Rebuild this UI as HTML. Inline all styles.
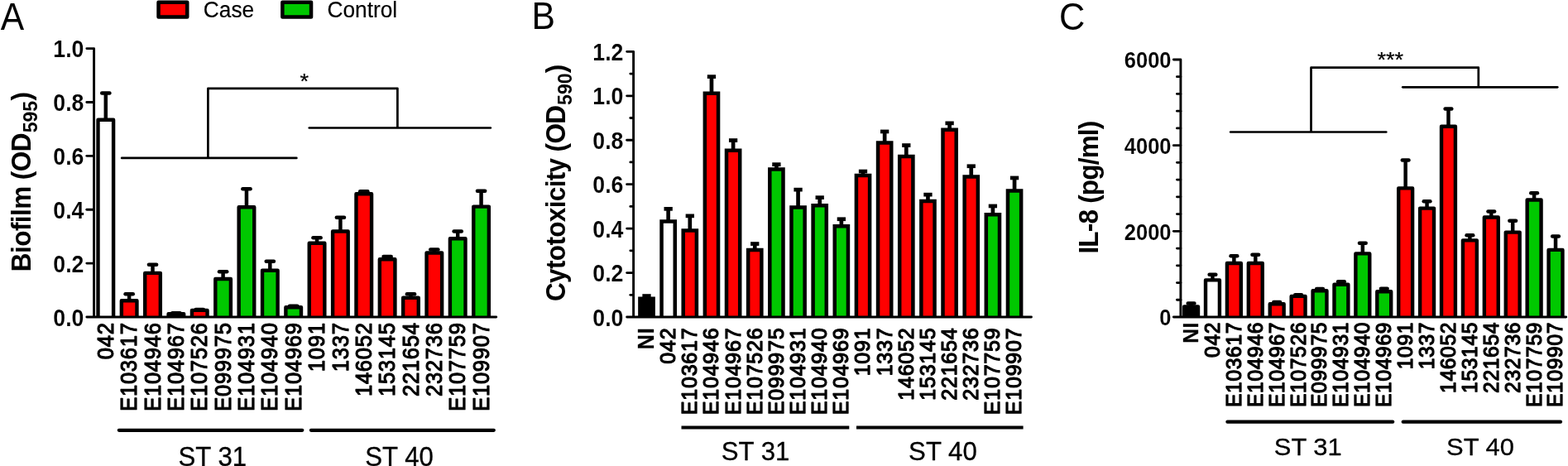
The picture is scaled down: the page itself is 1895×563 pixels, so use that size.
<!DOCTYPE html>
<html lang="en">
<head>
<meta charset="utf-8">
<title>Figure: Biofilm, Cytotoxicity and IL-8</title>
<style>
html,body{margin:0;padding:0;background:#fff;}
body{width:1895px;height:563px;overflow:hidden;font-family:"Liberation Sans", sans-serif;}
svg{display:block;}
text{font-family:"Liberation Sans", sans-serif;}
</style>
</head>
<body>
<svg width="1895" height="563" viewBox="0 0 1895 563" font-family='"Liberation Sans", sans-serif' fill="#000">
<rect width="1895" height="563" fill="#fff"/>
<rect x="191.55" y="2.75" width="34.7" height="17.7" fill="#ff0000" stroke="#000" stroke-width="4.5" stroke-linejoin="round"/>
<text transform="translate(245.8 20.75) scale(1 1.085)" font-size="26.3" font-weight="normal" text-anchor="start" stroke="#000" stroke-width="0.15" stroke-linejoin="round">Case</text>
<rect x="341.35" y="2.75" width="34.7" height="17.7" fill="#00c800" stroke="#000" stroke-width="4.5" stroke-linejoin="round"/>
<text transform="translate(395.4 20.75) scale(1 1.085)" font-size="26.3" font-weight="normal" text-anchor="start" stroke="#000" stroke-width="0.15" stroke-linejoin="round">Control</text>
<line x1="127.8" y1="112.45" x2="127.8" y2="144.8" stroke="#000" stroke-width="4.5" stroke-linecap="butt"/>
<line x1="123.2" y1="112.45" x2="132.4" y2="112.45" stroke="#000" stroke-width="4.5" stroke-linecap="round"/>
<path d="M118.5 383V144.8H137.1V383" fill="#fff" stroke="#000" stroke-width="4.4" stroke-linejoin="round"/>
<line x1="156.16" y1="355.25" x2="156.16" y2="363.2" stroke="#000" stroke-width="4.5" stroke-linecap="butt"/>
<line x1="151.56" y1="355.25" x2="160.76" y2="355.25" stroke="#000" stroke-width="4.5" stroke-linecap="round"/>
<path d="M146.86 383V363.2H165.46V383" fill="#ff0000" stroke="#000" stroke-width="4.4" stroke-linejoin="round"/>
<line x1="184.52" y1="319.75" x2="184.52" y2="329.9" stroke="#000" stroke-width="4.5" stroke-linecap="butt"/>
<line x1="179.92" y1="319.75" x2="189.12" y2="319.75" stroke="#000" stroke-width="4.5" stroke-linecap="round"/>
<path d="M175.22 383V329.9H193.82V383" fill="#ff0000" stroke="#000" stroke-width="4.4" stroke-linejoin="round"/>
<line x1="212.88" y1="378.35" x2="212.88" y2="379.2" stroke="#000" stroke-width="4.5" stroke-linecap="butt"/>
<line x1="208.28" y1="378.35" x2="217.48" y2="378.35" stroke="#000" stroke-width="4.5" stroke-linecap="round"/>
<path d="M203.58 383V379.2H222.18V383" fill="#000" stroke="#000" stroke-width="4.4" stroke-linejoin="round"/>
<line x1="241.24" y1="373.95" x2="241.24" y2="374.9" stroke="#000" stroke-width="4.5" stroke-linecap="butt"/>
<line x1="236.64" y1="373.95" x2="245.84" y2="373.95" stroke="#000" stroke-width="4.5" stroke-linecap="round"/>
<path d="M231.94 383V374.9H250.54V383" fill="#ff0000" stroke="#000" stroke-width="4.4" stroke-linejoin="round"/>
<line x1="269.6" y1="328.25" x2="269.6" y2="337" stroke="#000" stroke-width="4.5" stroke-linecap="butt"/>
<line x1="265" y1="328.25" x2="274.2" y2="328.25" stroke="#000" stroke-width="4.5" stroke-linecap="round"/>
<path d="M260.3 383V337H278.9V383" fill="#00c800" stroke="#000" stroke-width="4.4" stroke-linejoin="round"/>
<line x1="297.96" y1="228.35" x2="297.96" y2="250.2" stroke="#000" stroke-width="4.5" stroke-linecap="butt"/>
<line x1="293.36" y1="228.35" x2="302.56" y2="228.35" stroke="#000" stroke-width="4.5" stroke-linecap="round"/>
<path d="M288.66 383V250.2H307.26V383" fill="#00c800" stroke="#000" stroke-width="4.4" stroke-linejoin="round"/>
<line x1="326.32" y1="315.65" x2="326.32" y2="326.8" stroke="#000" stroke-width="4.5" stroke-linecap="butt"/>
<line x1="321.72" y1="315.65" x2="330.92" y2="315.65" stroke="#000" stroke-width="4.5" stroke-linecap="round"/>
<path d="M317.02 383V326.8H335.62V383" fill="#00c800" stroke="#000" stroke-width="4.4" stroke-linejoin="round"/>
<line x1="354.68" y1="369.75" x2="354.68" y2="371.2" stroke="#000" stroke-width="4.5" stroke-linecap="butt"/>
<line x1="350.08" y1="369.75" x2="359.28" y2="369.75" stroke="#000" stroke-width="4.5" stroke-linecap="round"/>
<path d="M345.38 383V371.2H363.98V383" fill="#00c800" stroke="#000" stroke-width="4.4" stroke-linejoin="round"/>
<line x1="383.04" y1="287.15" x2="383.04" y2="293.8" stroke="#000" stroke-width="4.5" stroke-linecap="butt"/>
<line x1="378.44" y1="287.15" x2="387.64" y2="287.15" stroke="#000" stroke-width="4.5" stroke-linecap="round"/>
<path d="M373.74 383V293.8H392.34V383" fill="#ff0000" stroke="#000" stroke-width="4.4" stroke-linejoin="round"/>
<line x1="411.4" y1="262.65" x2="411.4" y2="279.5" stroke="#000" stroke-width="4.5" stroke-linecap="butt"/>
<line x1="406.8" y1="262.65" x2="416" y2="262.65" stroke="#000" stroke-width="4.5" stroke-linecap="round"/>
<path d="M402.1 383V279.5H420.7V383" fill="#ff0000" stroke="#000" stroke-width="4.4" stroke-linejoin="round"/>
<line x1="439.76" y1="231.25" x2="439.76" y2="234.2" stroke="#000" stroke-width="4.5" stroke-linecap="butt"/>
<line x1="435.16" y1="231.25" x2="444.36" y2="231.25" stroke="#000" stroke-width="4.5" stroke-linecap="round"/>
<path d="M430.46 383V234.2H449.06V383" fill="#ff0000" stroke="#000" stroke-width="4.4" stroke-linejoin="round"/>
<line x1="468.12" y1="310.05" x2="468.12" y2="313.2" stroke="#000" stroke-width="4.5" stroke-linecap="butt"/>
<line x1="463.52" y1="310.05" x2="472.72" y2="310.05" stroke="#000" stroke-width="4.5" stroke-linecap="round"/>
<path d="M458.82 383V313.2H477.42V383" fill="#ff0000" stroke="#000" stroke-width="4.4" stroke-linejoin="round"/>
<line x1="496.48" y1="355.25" x2="496.48" y2="359.7" stroke="#000" stroke-width="4.5" stroke-linecap="butt"/>
<line x1="491.88" y1="355.25" x2="501.08" y2="355.25" stroke="#000" stroke-width="4.5" stroke-linecap="round"/>
<path d="M487.18 383V359.7H505.78V383" fill="#ff0000" stroke="#000" stroke-width="4.4" stroke-linejoin="round"/>
<line x1="524.84" y1="301.45" x2="524.84" y2="305.5" stroke="#000" stroke-width="4.5" stroke-linecap="butt"/>
<line x1="520.24" y1="301.45" x2="529.44" y2="301.45" stroke="#000" stroke-width="4.5" stroke-linecap="round"/>
<path d="M515.54 383V305.5H534.14V383" fill="#ff0000" stroke="#000" stroke-width="4.4" stroke-linejoin="round"/>
<line x1="553.2" y1="279.55" x2="553.2" y2="288.3" stroke="#000" stroke-width="4.5" stroke-linecap="butt"/>
<line x1="548.6" y1="279.55" x2="557.8" y2="279.55" stroke="#000" stroke-width="4.5" stroke-linecap="round"/>
<path d="M543.9 383V288.3H562.5V383" fill="#00c800" stroke="#000" stroke-width="4.4" stroke-linejoin="round"/>
<line x1="581.56" y1="230.65" x2="581.56" y2="249.6" stroke="#000" stroke-width="4.5" stroke-linecap="butt"/>
<line x1="576.96" y1="230.65" x2="586.16" y2="230.65" stroke="#000" stroke-width="4.5" stroke-linecap="round"/>
<path d="M572.26 383V249.6H590.86V383" fill="#00c800" stroke="#000" stroke-width="4.4" stroke-linejoin="round"/>
<path d="M104.85 58.6H113.6V383M104.85 383H599.75" fill="none" stroke="#000" stroke-width="2.9" stroke-linecap="round" stroke-linejoin="round"/>
<text transform="translate(101.4 393.5) scale(1 1.075)" font-size="26.7" font-weight="bold" text-anchor="end" stroke="#fff" stroke-width="0.1">0.0</text>
<line x1="104.8" y1="318.12" x2="113.6" y2="318.12" stroke="#000" stroke-width="2.8" stroke-linecap="round"/>
<text transform="translate(101.4 328.62) scale(1 1.075)" font-size="26.7" font-weight="bold" text-anchor="end" stroke="#fff" stroke-width="0.1">0.2</text>
<line x1="104.8" y1="253.24" x2="113.6" y2="253.24" stroke="#000" stroke-width="2.8" stroke-linecap="round"/>
<text transform="translate(101.4 263.74) scale(1 1.075)" font-size="26.7" font-weight="bold" text-anchor="end" stroke="#fff" stroke-width="0.1">0.4</text>
<line x1="104.8" y1="188.36" x2="113.6" y2="188.36" stroke="#000" stroke-width="2.8" stroke-linecap="round"/>
<text transform="translate(101.4 198.86) scale(1 1.075)" font-size="26.7" font-weight="bold" text-anchor="end" stroke="#fff" stroke-width="0.1">0.6</text>
<line x1="104.8" y1="123.48" x2="113.6" y2="123.48" stroke="#000" stroke-width="2.8" stroke-linecap="round"/>
<text transform="translate(101.4 133.98) scale(1 1.075)" font-size="26.7" font-weight="bold" text-anchor="end" stroke="#fff" stroke-width="0.1">0.8</text>
<text transform="translate(101.4 69.1) scale(1 1.075)" font-size="26.7" font-weight="bold" text-anchor="end" stroke="#fff" stroke-width="0.1">1.0</text>
<text transform="translate(136.9 389.32) rotate(-90) scale(1 1.05)" font-size="25.5" font-weight="normal" text-anchor="end" letter-spacing="0.78" stroke="#000" stroke-width="1.1" stroke-linejoin="round">042</text>
<text transform="translate(165.26 389.32) rotate(-90) scale(1 1.05)" font-size="25.5" font-weight="normal" text-anchor="end" letter-spacing="0.78" stroke="#000" stroke-width="1.1" stroke-linejoin="round">E103617</text>
<text transform="translate(193.62 389.32) rotate(-90) scale(1 1.05)" font-size="25.5" font-weight="normal" text-anchor="end" letter-spacing="0.78" stroke="#000" stroke-width="1.1" stroke-linejoin="round">E104946</text>
<text transform="translate(221.98 389.32) rotate(-90) scale(1 1.05)" font-size="25.5" font-weight="normal" text-anchor="end" letter-spacing="0.78" stroke="#000" stroke-width="1.1" stroke-linejoin="round">E104967</text>
<text transform="translate(250.34 389.32) rotate(-90) scale(1 1.05)" font-size="25.5" font-weight="normal" text-anchor="end" letter-spacing="0.78" stroke="#000" stroke-width="1.1" stroke-linejoin="round">E107526</text>
<text transform="translate(278.7 389.32) rotate(-90) scale(1 1.05)" font-size="25.5" font-weight="normal" text-anchor="end" letter-spacing="0.78" stroke="#000" stroke-width="1.1" stroke-linejoin="round">E099975</text>
<text transform="translate(307.06 389.32) rotate(-90) scale(1 1.05)" font-size="25.5" font-weight="normal" text-anchor="end" letter-spacing="0.78" stroke="#000" stroke-width="1.1" stroke-linejoin="round">E104931</text>
<text transform="translate(335.42 389.32) rotate(-90) scale(1 1.05)" font-size="25.5" font-weight="normal" text-anchor="end" letter-spacing="0.78" stroke="#000" stroke-width="1.1" stroke-linejoin="round">E104940</text>
<text transform="translate(363.78 389.32) rotate(-90) scale(1 1.05)" font-size="25.5" font-weight="normal" text-anchor="end" letter-spacing="0.78" stroke="#000" stroke-width="1.1" stroke-linejoin="round">E104969</text>
<text transform="translate(392.14 389.32) rotate(-90) scale(1 1.05)" font-size="25.5" font-weight="normal" text-anchor="end" letter-spacing="0.78" stroke="#000" stroke-width="1.1" stroke-linejoin="round">1091</text>
<text transform="translate(420.5 389.32) rotate(-90) scale(1 1.05)" font-size="25.5" font-weight="normal" text-anchor="end" letter-spacing="0.78" stroke="#000" stroke-width="1.1" stroke-linejoin="round">1337</text>
<text transform="translate(448.86 389.32) rotate(-90) scale(1 1.05)" font-size="25.5" font-weight="normal" text-anchor="end" letter-spacing="0.78" stroke="#000" stroke-width="1.1" stroke-linejoin="round">146052</text>
<text transform="translate(477.22 389.32) rotate(-90) scale(1 1.05)" font-size="25.5" font-weight="normal" text-anchor="end" letter-spacing="0.78" stroke="#000" stroke-width="1.1" stroke-linejoin="round">153145</text>
<text transform="translate(505.58 389.32) rotate(-90) scale(1 1.05)" font-size="25.5" font-weight="normal" text-anchor="end" letter-spacing="0.78" stroke="#000" stroke-width="1.1" stroke-linejoin="round">221654</text>
<text transform="translate(533.94 389.32) rotate(-90) scale(1 1.05)" font-size="25.5" font-weight="normal" text-anchor="end" letter-spacing="0.78" stroke="#000" stroke-width="1.1" stroke-linejoin="round">232736</text>
<text transform="translate(562.3 389.32) rotate(-90) scale(1 1.05)" font-size="25.5" font-weight="normal" text-anchor="end" letter-spacing="0.78" stroke="#000" stroke-width="1.1" stroke-linejoin="round">E107759</text>
<text transform="translate(590.66 389.32) rotate(-90) scale(1 1.05)" font-size="25.5" font-weight="normal" text-anchor="end" letter-spacing="0.78" stroke="#000" stroke-width="1.1" stroke-linejoin="round">E109907</text>
<line x1="143.8" y1="519.8" x2="365.3" y2="519.8" stroke="#000" stroke-width="4.2" stroke-linecap="round"/>
<line x1="375.9" y1="519.8" x2="596.8" y2="519.8" stroke="#000" stroke-width="4.2" stroke-linecap="round"/>
<text transform="translate(215.5 562.9) scale(1 1.045)" font-size="31.2" font-weight="normal" text-anchor="start" stroke="#000" stroke-width="0.3" stroke-linejoin="round">ST 31</text>
<text transform="translate(441.2 562.9) scale(1 1.045)" font-size="31.2" font-weight="normal" text-anchor="start" stroke="#000" stroke-width="0.3" stroke-linejoin="round">ST 40</text>
<text transform="translate(37 328.2) rotate(-90) scale(1 1.03)" font-size="31.5" font-weight="bold" text-anchor="start" letter-spacing="-0.55">Biofilm (OD<tspan font-size="23" dx="0.8" dy="7.7" letter-spacing="0">595</tspan><tspan dx="0.3" dy="-7.7" letter-spacing="-0.7">)</tspan></text>
<text transform="translate(0.7 35.6) scale(1 1.065)" font-size="42.6" font-weight="normal" text-anchor="start">A</text>
<line x1="781.5" y1="357.55" x2="781.5" y2="360.65" stroke="#000" stroke-width="4.7" stroke-linecap="butt"/>
<line x1="776.35" y1="357.55" x2="786.65" y2="357.55" stroke="#000" stroke-width="4.7" stroke-linecap="butt"/>
<path d="M773.4 383V360.65H789.6V383" fill="#000" stroke="#000" stroke-width="4.5" stroke-linejoin="miter"/>
<line x1="807.65" y1="252.35" x2="807.65" y2="267.55" stroke="#000" stroke-width="4.7" stroke-linecap="butt"/>
<line x1="802.5" y1="252.35" x2="812.8" y2="252.35" stroke="#000" stroke-width="4.7" stroke-linecap="butt"/>
<path d="M799.55 383V267.55H815.75V383" fill="#fff" stroke="#000" stroke-width="4.5" stroke-linejoin="miter"/>
<line x1="833.8" y1="260.85" x2="833.8" y2="278.55" stroke="#000" stroke-width="4.7" stroke-linecap="butt"/>
<line x1="828.65" y1="260.85" x2="838.95" y2="260.85" stroke="#000" stroke-width="4.7" stroke-linecap="butt"/>
<path d="M825.7 383V278.55H841.9V383" fill="#ff0000" stroke="#000" stroke-width="4.5" stroke-linejoin="miter"/>
<line x1="859.95" y1="92.65" x2="859.95" y2="112.75" stroke="#000" stroke-width="4.7" stroke-linecap="butt"/>
<line x1="854.8" y1="92.65" x2="865.1" y2="92.65" stroke="#000" stroke-width="4.7" stroke-linecap="butt"/>
<path d="M851.85 383V112.75H868.05V383" fill="#ff0000" stroke="#000" stroke-width="4.5" stroke-linejoin="miter"/>
<line x1="886.1" y1="169.55" x2="886.1" y2="181.65" stroke="#000" stroke-width="4.7" stroke-linecap="butt"/>
<line x1="880.95" y1="169.55" x2="891.25" y2="169.55" stroke="#000" stroke-width="4.7" stroke-linecap="butt"/>
<path d="M878 383V181.65H894.2V383" fill="#ff0000" stroke="#000" stroke-width="4.5" stroke-linejoin="miter"/>
<line x1="912.25" y1="294.55" x2="912.25" y2="301.95" stroke="#000" stroke-width="4.7" stroke-linecap="butt"/>
<line x1="907.1" y1="294.55" x2="917.4" y2="294.55" stroke="#000" stroke-width="4.7" stroke-linecap="butt"/>
<path d="M904.15 383V301.95H920.35V383" fill="#ff0000" stroke="#000" stroke-width="4.5" stroke-linejoin="miter"/>
<line x1="938.4" y1="198.65" x2="938.4" y2="204.45" stroke="#000" stroke-width="4.7" stroke-linecap="butt"/>
<line x1="933.25" y1="198.65" x2="943.55" y2="198.65" stroke="#000" stroke-width="4.7" stroke-linecap="butt"/>
<path d="M930.3 383V204.45H946.5V383" fill="#00c800" stroke="#000" stroke-width="4.5" stroke-linejoin="miter"/>
<line x1="964.55" y1="229.15" x2="964.55" y2="250.45" stroke="#000" stroke-width="4.7" stroke-linecap="butt"/>
<line x1="959.4" y1="229.15" x2="969.7" y2="229.15" stroke="#000" stroke-width="4.7" stroke-linecap="butt"/>
<path d="M956.45 383V250.45H972.65V383" fill="#00c800" stroke="#000" stroke-width="4.5" stroke-linejoin="miter"/>
<line x1="990.7" y1="238.65" x2="990.7" y2="248.35" stroke="#000" stroke-width="4.7" stroke-linecap="butt"/>
<line x1="985.55" y1="238.65" x2="995.85" y2="238.65" stroke="#000" stroke-width="4.7" stroke-linecap="butt"/>
<path d="M982.6 383V248.35H998.8V383" fill="#00c800" stroke="#000" stroke-width="4.5" stroke-linejoin="miter"/>
<line x1="1016.85" y1="264.75" x2="1016.85" y2="273.35" stroke="#000" stroke-width="4.7" stroke-linecap="butt"/>
<line x1="1011.7" y1="264.75" x2="1022" y2="264.75" stroke="#000" stroke-width="4.7" stroke-linecap="butt"/>
<path d="M1008.75 383V273.35H1024.95V383" fill="#00c800" stroke="#000" stroke-width="4.5" stroke-linejoin="miter"/>
<line x1="1043" y1="207.05" x2="1043" y2="212.05" stroke="#000" stroke-width="4.7" stroke-linecap="butt"/>
<line x1="1037.85" y1="207.05" x2="1048.15" y2="207.05" stroke="#000" stroke-width="4.7" stroke-linecap="butt"/>
<path d="M1034.9 383V212.05H1051.1V383" fill="#ff0000" stroke="#000" stroke-width="4.5" stroke-linejoin="miter"/>
<line x1="1069.15" y1="158.95" x2="1069.15" y2="172.55" stroke="#000" stroke-width="4.7" stroke-linecap="butt"/>
<line x1="1064" y1="158.95" x2="1074.3" y2="158.95" stroke="#000" stroke-width="4.7" stroke-linecap="butt"/>
<path d="M1061.05 383V172.55H1077.25V383" fill="#ff0000" stroke="#000" stroke-width="4.5" stroke-linejoin="miter"/>
<line x1="1095.3" y1="175.55" x2="1095.3" y2="189.05" stroke="#000" stroke-width="4.7" stroke-linecap="butt"/>
<line x1="1090.15" y1="175.55" x2="1100.45" y2="175.55" stroke="#000" stroke-width="4.7" stroke-linecap="butt"/>
<path d="M1087.2 383V189.05H1103.4V383" fill="#ff0000" stroke="#000" stroke-width="4.5" stroke-linejoin="miter"/>
<line x1="1121.45" y1="235.15" x2="1121.45" y2="243.05" stroke="#000" stroke-width="4.7" stroke-linecap="butt"/>
<line x1="1116.3" y1="235.15" x2="1126.6" y2="235.15" stroke="#000" stroke-width="4.7" stroke-linecap="butt"/>
<path d="M1113.35 383V243.05H1129.55V383" fill="#ff0000" stroke="#000" stroke-width="4.5" stroke-linejoin="miter"/>
<line x1="1147.6" y1="148.85" x2="1147.6" y2="156.75" stroke="#000" stroke-width="4.7" stroke-linecap="butt"/>
<line x1="1142.45" y1="148.85" x2="1152.75" y2="148.85" stroke="#000" stroke-width="4.7" stroke-linecap="butt"/>
<path d="M1139.5 383V156.75H1155.7V383" fill="#ff0000" stroke="#000" stroke-width="4.5" stroke-linejoin="miter"/>
<line x1="1173.75" y1="200.75" x2="1173.75" y2="213.45" stroke="#000" stroke-width="4.7" stroke-linecap="butt"/>
<line x1="1168.6" y1="200.75" x2="1178.9" y2="200.75" stroke="#000" stroke-width="4.7" stroke-linecap="butt"/>
<path d="M1165.65 383V213.45H1181.85V383" fill="#ff0000" stroke="#000" stroke-width="4.5" stroke-linejoin="miter"/>
<line x1="1199.9" y1="248.95" x2="1199.9" y2="259.35" stroke="#000" stroke-width="4.7" stroke-linecap="butt"/>
<line x1="1194.75" y1="248.95" x2="1205.05" y2="248.95" stroke="#000" stroke-width="4.7" stroke-linecap="butt"/>
<path d="M1191.8 383V259.35H1208V383" fill="#00c800" stroke="#000" stroke-width="4.5" stroke-linejoin="miter"/>
<line x1="1226.05" y1="214.95" x2="1226.05" y2="230.45" stroke="#000" stroke-width="4.7" stroke-linecap="butt"/>
<line x1="1220.9" y1="214.95" x2="1231.2" y2="214.95" stroke="#000" stroke-width="4.7" stroke-linecap="butt"/>
<path d="M1217.95 383V230.45H1234.15V383" fill="#00c800" stroke="#000" stroke-width="4.5" stroke-linejoin="miter"/>
<path d="M757.65 62.36H765.6V383M757.65 383H1246.45" fill="none" stroke="#000" stroke-width="2.9" stroke-linecap="round" stroke-linejoin="round"/>
<text transform="translate(753.4 393.5) scale(1 1.075)" font-size="26.7" font-weight="bold" text-anchor="end" stroke="#fff" stroke-width="0.1">0.0</text>
<line x1="757.6" y1="329.56" x2="765.6" y2="329.56" stroke="#000" stroke-width="2.8" stroke-linecap="round"/>
<text transform="translate(753.4 340.06) scale(1 1.075)" font-size="26.7" font-weight="bold" text-anchor="end" stroke="#fff" stroke-width="0.1">0.2</text>
<line x1="757.6" y1="276.12" x2="765.6" y2="276.12" stroke="#000" stroke-width="2.8" stroke-linecap="round"/>
<text transform="translate(753.4 286.62) scale(1 1.075)" font-size="26.7" font-weight="bold" text-anchor="end" stroke="#fff" stroke-width="0.1">0.4</text>
<line x1="757.6" y1="222.68" x2="765.6" y2="222.68" stroke="#000" stroke-width="2.8" stroke-linecap="round"/>
<text transform="translate(753.4 233.18) scale(1 1.075)" font-size="26.7" font-weight="bold" text-anchor="end" stroke="#fff" stroke-width="0.1">0.6</text>
<line x1="757.6" y1="169.24" x2="765.6" y2="169.24" stroke="#000" stroke-width="2.8" stroke-linecap="round"/>
<text transform="translate(753.4 179.74) scale(1 1.075)" font-size="26.7" font-weight="bold" text-anchor="end" stroke="#fff" stroke-width="0.1">0.8</text>
<line x1="757.6" y1="115.8" x2="765.6" y2="115.8" stroke="#000" stroke-width="2.8" stroke-linecap="round"/>
<text transform="translate(753.4 126.3) scale(1 1.075)" font-size="26.7" font-weight="bold" text-anchor="end" stroke="#fff" stroke-width="0.1">1.0</text>
<text transform="translate(753.4 72.86) scale(1 1.075)" font-size="26.7" font-weight="bold" text-anchor="end" stroke="#fff" stroke-width="0.1">1.2</text>
<line x1="761.8" y1="356.28" x2="765.6" y2="356.28" stroke="#000" stroke-width="2.8" stroke-linecap="round"/>
<line x1="761.8" y1="302.84" x2="765.6" y2="302.84" stroke="#000" stroke-width="2.8" stroke-linecap="round"/>
<line x1="761.8" y1="249.4" x2="765.6" y2="249.4" stroke="#000" stroke-width="2.8" stroke-linecap="round"/>
<line x1="761.8" y1="195.96" x2="765.6" y2="195.96" stroke="#000" stroke-width="2.8" stroke-linecap="round"/>
<line x1="761.8" y1="142.52" x2="765.6" y2="142.52" stroke="#000" stroke-width="2.8" stroke-linecap="round"/>
<line x1="761.8" y1="89.08" x2="765.6" y2="89.08" stroke="#000" stroke-width="2.8" stroke-linecap="round"/>
<text transform="translate(789.9 395.62) rotate(-90) scale(1 1.08)" font-size="25" font-weight="bold" text-anchor="end" letter-spacing="0.78" stroke="#000" stroke-width="0.3" stroke-linejoin="round">NI</text>
<text transform="translate(816.05 395.62) rotate(-90) scale(1 1.05)" font-size="25" font-weight="normal" text-anchor="end" letter-spacing="0.78" stroke="#000" stroke-width="1.2" stroke-linejoin="round">042</text>
<text transform="translate(842.2 395.62) rotate(-90) scale(1 1.05)" font-size="25" font-weight="normal" text-anchor="end" letter-spacing="0.78" stroke="#000" stroke-width="1.2" stroke-linejoin="round">E103617</text>
<text transform="translate(868.35 395.62) rotate(-90) scale(1 1.05)" font-size="25" font-weight="normal" text-anchor="end" letter-spacing="0.78" stroke="#000" stroke-width="1.2" stroke-linejoin="round">E104946</text>
<text transform="translate(894.5 395.62) rotate(-90) scale(1 1.05)" font-size="25" font-weight="normal" text-anchor="end" letter-spacing="0.78" stroke="#000" stroke-width="1.2" stroke-linejoin="round">E104967</text>
<text transform="translate(920.65 395.62) rotate(-90) scale(1 1.05)" font-size="25" font-weight="normal" text-anchor="end" letter-spacing="0.78" stroke="#000" stroke-width="1.2" stroke-linejoin="round">E107526</text>
<text transform="translate(946.8 395.62) rotate(-90) scale(1 1.05)" font-size="25" font-weight="normal" text-anchor="end" letter-spacing="0.78" stroke="#000" stroke-width="1.2" stroke-linejoin="round">E099975</text>
<text transform="translate(972.95 395.62) rotate(-90) scale(1 1.05)" font-size="25" font-weight="normal" text-anchor="end" letter-spacing="0.78" stroke="#000" stroke-width="1.2" stroke-linejoin="round">E104931</text>
<text transform="translate(999.1 395.62) rotate(-90) scale(1 1.05)" font-size="25" font-weight="normal" text-anchor="end" letter-spacing="0.78" stroke="#000" stroke-width="1.2" stroke-linejoin="round">E104940</text>
<text transform="translate(1025.25 395.62) rotate(-90) scale(1 1.05)" font-size="25" font-weight="normal" text-anchor="end" letter-spacing="0.78" stroke="#000" stroke-width="1.2" stroke-linejoin="round">E104969</text>
<text transform="translate(1051.4 395.62) rotate(-90) scale(1 1.05)" font-size="25" font-weight="normal" text-anchor="end" letter-spacing="0.78" stroke="#000" stroke-width="1.2" stroke-linejoin="round">1091</text>
<text transform="translate(1077.55 395.62) rotate(-90) scale(1 1.05)" font-size="25" font-weight="normal" text-anchor="end" letter-spacing="0.78" stroke="#000" stroke-width="1.2" stroke-linejoin="round">1337</text>
<text transform="translate(1103.7 395.62) rotate(-90) scale(1 1.05)" font-size="25" font-weight="normal" text-anchor="end" letter-spacing="0.78" stroke="#000" stroke-width="1.2" stroke-linejoin="round">146052</text>
<text transform="translate(1129.85 395.62) rotate(-90) scale(1 1.05)" font-size="25" font-weight="normal" text-anchor="end" letter-spacing="0.78" stroke="#000" stroke-width="1.2" stroke-linejoin="round">153145</text>
<text transform="translate(1156 395.62) rotate(-90) scale(1 1.05)" font-size="25" font-weight="normal" text-anchor="end" letter-spacing="0.78" stroke="#000" stroke-width="1.2" stroke-linejoin="round">221654</text>
<text transform="translate(1182.15 395.62) rotate(-90) scale(1 1.05)" font-size="25" font-weight="normal" text-anchor="end" letter-spacing="0.78" stroke="#000" stroke-width="1.2" stroke-linejoin="round">232736</text>
<text transform="translate(1208.3 395.62) rotate(-90) scale(1 1.05)" font-size="25" font-weight="normal" text-anchor="end" letter-spacing="0.78" stroke="#000" stroke-width="1.2" stroke-linejoin="round">E107759</text>
<text transform="translate(1234.45 395.62) rotate(-90) scale(1 1.05)" font-size="25" font-weight="normal" text-anchor="end" letter-spacing="0.78" stroke="#000" stroke-width="1.2" stroke-linejoin="round">E109907</text>
<line x1="823.5" y1="516.5" x2="1026.3" y2="516.5" stroke="#000" stroke-width="4.2" stroke-linecap="butt"/>
<line x1="1035" y1="516.5" x2="1236.6" y2="516.5" stroke="#000" stroke-width="4.2" stroke-linecap="butt"/>
<text transform="translate(871.8 556.1) scale(1 1.025)" font-size="31.2" font-weight="normal" text-anchor="start" stroke="#000" stroke-width="0.3" stroke-linejoin="round">ST 31</text>
<text transform="translate(1098.1 556.1) scale(1 1.025)" font-size="31.2" font-weight="normal" text-anchor="start" stroke="#000" stroke-width="0.3" stroke-linejoin="round">ST 40</text>
<text transform="translate(683.4 364) rotate(-90) scale(1 1.03)" font-size="31.5" font-weight="bold" text-anchor="start" letter-spacing="-0.65">Cytotoxicity (OD<tspan font-size="23" dx="0.8" dy="7.7" letter-spacing="0">590</tspan><tspan dx="0.3" dy="-7.7" letter-spacing="-0.7">)</tspan></text>
<text transform="translate(642.6 35.2) scale(1 1.065)" font-size="42.6" font-weight="normal" text-anchor="start">B</text>
<line x1="1439.55" y1="366.45" x2="1439.55" y2="370.4" stroke="#000" stroke-width="4.5" stroke-linecap="butt"/>
<line x1="1435.7" y1="366.45" x2="1443.4" y2="366.45" stroke="#000" stroke-width="4.5" stroke-linecap="round"/>
<path d="M1431.1 383V370.4H1448V383" fill="#000" stroke="#000" stroke-width="4.4" stroke-linejoin="round"/>
<line x1="1465.46" y1="331.65" x2="1465.46" y2="338.4" stroke="#000" stroke-width="4.5" stroke-linecap="butt"/>
<line x1="1461.61" y1="331.65" x2="1469.31" y2="331.65" stroke="#000" stroke-width="4.5" stroke-linecap="round"/>
<path d="M1457.01 383V338.4H1473.91V383" fill="#fff" stroke="#000" stroke-width="4.4" stroke-linejoin="round"/>
<line x1="1491.37" y1="309.15" x2="1491.37" y2="318" stroke="#000" stroke-width="4.5" stroke-linecap="butt"/>
<line x1="1487.52" y1="309.15" x2="1495.22" y2="309.15" stroke="#000" stroke-width="4.5" stroke-linecap="round"/>
<path d="M1482.92 383V318H1499.82V383" fill="#ff0000" stroke="#000" stroke-width="4.4" stroke-linejoin="round"/>
<line x1="1517.28" y1="307.85" x2="1517.28" y2="318" stroke="#000" stroke-width="4.5" stroke-linecap="butt"/>
<line x1="1513.43" y1="307.85" x2="1521.13" y2="307.85" stroke="#000" stroke-width="4.5" stroke-linecap="round"/>
<path d="M1508.83 383V318H1525.73V383" fill="#ff0000" stroke="#000" stroke-width="4.4" stroke-linejoin="round"/>
<line x1="1543.19" y1="365.05" x2="1543.19" y2="367.2" stroke="#000" stroke-width="4.5" stroke-linecap="butt"/>
<line x1="1539.34" y1="365.05" x2="1547.04" y2="365.05" stroke="#000" stroke-width="4.5" stroke-linecap="round"/>
<path d="M1534.74 383V367.2H1551.64V383" fill="#ff0000" stroke="#000" stroke-width="4.4" stroke-linejoin="round"/>
<line x1="1569.1" y1="356.15" x2="1569.1" y2="357.9" stroke="#000" stroke-width="4.5" stroke-linecap="butt"/>
<line x1="1565.25" y1="356.15" x2="1572.95" y2="356.15" stroke="#000" stroke-width="4.5" stroke-linecap="round"/>
<path d="M1560.65 383V357.9H1577.55V383" fill="#ff0000" stroke="#000" stroke-width="4.4" stroke-linejoin="round"/>
<line x1="1595.01" y1="349.05" x2="1595.01" y2="351.2" stroke="#000" stroke-width="4.5" stroke-linecap="butt"/>
<line x1="1591.16" y1="349.05" x2="1598.86" y2="349.05" stroke="#000" stroke-width="4.5" stroke-linecap="round"/>
<path d="M1586.56 383V351.2H1603.46V383" fill="#00c800" stroke="#000" stroke-width="4.4" stroke-linejoin="round"/>
<line x1="1620.92" y1="340.25" x2="1620.92" y2="343.7" stroke="#000" stroke-width="4.5" stroke-linecap="butt"/>
<line x1="1617.07" y1="340.25" x2="1624.77" y2="340.25" stroke="#000" stroke-width="4.5" stroke-linecap="round"/>
<path d="M1612.47 383V343.7H1629.37V383" fill="#00c800" stroke="#000" stroke-width="4.4" stroke-linejoin="round"/>
<line x1="1646.83" y1="293.65" x2="1646.83" y2="306.4" stroke="#000" stroke-width="4.5" stroke-linecap="butt"/>
<line x1="1642.98" y1="293.65" x2="1650.68" y2="293.65" stroke="#000" stroke-width="4.5" stroke-linecap="round"/>
<path d="M1638.38 383V306.4H1655.28V383" fill="#00c800" stroke="#000" stroke-width="4.4" stroke-linejoin="round"/>
<line x1="1672.74" y1="348.75" x2="1672.74" y2="352.2" stroke="#000" stroke-width="4.5" stroke-linecap="butt"/>
<line x1="1668.89" y1="348.75" x2="1676.59" y2="348.75" stroke="#000" stroke-width="4.5" stroke-linecap="round"/>
<path d="M1664.29 383V352.2H1681.19V383" fill="#00c800" stroke="#000" stroke-width="4.4" stroke-linejoin="round"/>
<line x1="1698.65" y1="193.55" x2="1698.65" y2="227.4" stroke="#000" stroke-width="4.5" stroke-linecap="butt"/>
<line x1="1694.8" y1="193.55" x2="1702.5" y2="193.55" stroke="#000" stroke-width="4.5" stroke-linecap="round"/>
<path d="M1690.2 383V227.4H1707.1V383" fill="#ff0000" stroke="#000" stroke-width="4.4" stroke-linejoin="round"/>
<line x1="1724.56" y1="243.35" x2="1724.56" y2="251.6" stroke="#000" stroke-width="4.5" stroke-linecap="butt"/>
<line x1="1720.71" y1="243.35" x2="1728.41" y2="243.35" stroke="#000" stroke-width="4.5" stroke-linecap="round"/>
<path d="M1716.11 383V251.6H1733.01V383" fill="#ff0000" stroke="#000" stroke-width="4.4" stroke-linejoin="round"/>
<line x1="1750.47" y1="131.55" x2="1750.47" y2="152.8" stroke="#000" stroke-width="4.5" stroke-linecap="butt"/>
<line x1="1746.62" y1="131.55" x2="1754.32" y2="131.55" stroke="#000" stroke-width="4.5" stroke-linecap="round"/>
<path d="M1742.02 383V152.8H1758.92V383" fill="#ff0000" stroke="#000" stroke-width="4.4" stroke-linejoin="round"/>
<line x1="1776.38" y1="284.15" x2="1776.38" y2="290.4" stroke="#000" stroke-width="4.5" stroke-linecap="butt"/>
<line x1="1772.53" y1="284.15" x2="1780.23" y2="284.15" stroke="#000" stroke-width="4.5" stroke-linecap="round"/>
<path d="M1767.93 383V290.4H1784.83V383" fill="#ff0000" stroke="#000" stroke-width="4.4" stroke-linejoin="round"/>
<line x1="1802.29" y1="255.45" x2="1802.29" y2="262.5" stroke="#000" stroke-width="4.5" stroke-linecap="butt"/>
<line x1="1798.44" y1="255.45" x2="1806.14" y2="255.45" stroke="#000" stroke-width="4.5" stroke-linecap="round"/>
<path d="M1793.84 383V262.5H1810.74V383" fill="#ff0000" stroke="#000" stroke-width="4.4" stroke-linejoin="round"/>
<line x1="1828.2" y1="266.75" x2="1828.2" y2="280.6" stroke="#000" stroke-width="4.5" stroke-linecap="butt"/>
<line x1="1824.35" y1="266.75" x2="1832.05" y2="266.75" stroke="#000" stroke-width="4.5" stroke-linecap="round"/>
<path d="M1819.75 383V280.6H1836.65V383" fill="#ff0000" stroke="#000" stroke-width="4.4" stroke-linejoin="round"/>
<line x1="1854.11" y1="233.25" x2="1854.11" y2="241.5" stroke="#000" stroke-width="4.5" stroke-linecap="butt"/>
<line x1="1850.26" y1="233.25" x2="1857.96" y2="233.25" stroke="#000" stroke-width="4.5" stroke-linecap="round"/>
<path d="M1845.66 383V241.5H1862.56V383" fill="#00c800" stroke="#000" stroke-width="4.4" stroke-linejoin="round"/>
<line x1="1880.02" y1="285.45" x2="1880.02" y2="301.9" stroke="#000" stroke-width="4.5" stroke-linecap="butt"/>
<line x1="1876.17" y1="285.45" x2="1883.87" y2="285.45" stroke="#000" stroke-width="4.5" stroke-linecap="round"/>
<path d="M1871.57 383V301.9H1888.47V383" fill="#00c800" stroke="#000" stroke-width="4.4" stroke-linejoin="round"/>
<path d="M1418.35 71.95H1426.9V383M1418.35 383H1892.65" fill="none" stroke="#000" stroke-width="2.9" stroke-linecap="round" stroke-linejoin="round"/>
<text transform="translate(1415.5 393.2) scale(1 1.075)" font-size="25.5" font-weight="bold" text-anchor="end" stroke="#fff" stroke-width="0.1">0</text>
<line x1="1418.3" y1="279.32" x2="1426.9" y2="279.32" stroke="#000" stroke-width="2.8" stroke-linecap="round"/>
<text transform="translate(1415.5 289.52) scale(1 1.075)" font-size="25.5" font-weight="bold" text-anchor="end" stroke="#fff" stroke-width="0.1">2000</text>
<line x1="1418.3" y1="175.63" x2="1426.9" y2="175.63" stroke="#000" stroke-width="2.8" stroke-linecap="round"/>
<text transform="translate(1415.5 185.83) scale(1 1.075)" font-size="25.5" font-weight="bold" text-anchor="end" stroke="#fff" stroke-width="0.1">4000</text>
<text transform="translate(1415.5 82.15) scale(1 1.075)" font-size="25.5" font-weight="bold" text-anchor="end" stroke="#fff" stroke-width="0.1">6000</text>
<line x1="1422.4" y1="362.26" x2="1426.9" y2="362.26" stroke="#000" stroke-width="2.8" stroke-linecap="round"/>
<line x1="1422.4" y1="341.53" x2="1426.9" y2="341.53" stroke="#000" stroke-width="2.8" stroke-linecap="round"/>
<line x1="1422.4" y1="320.79" x2="1426.9" y2="320.79" stroke="#000" stroke-width="2.8" stroke-linecap="round"/>
<line x1="1422.4" y1="300.05" x2="1426.9" y2="300.05" stroke="#000" stroke-width="2.8" stroke-linecap="round"/>
<line x1="1422.4" y1="258.58" x2="1426.9" y2="258.58" stroke="#000" stroke-width="2.8" stroke-linecap="round"/>
<line x1="1422.4" y1="237.84" x2="1426.9" y2="237.84" stroke="#000" stroke-width="2.8" stroke-linecap="round"/>
<line x1="1422.4" y1="217.11" x2="1426.9" y2="217.11" stroke="#000" stroke-width="2.8" stroke-linecap="round"/>
<line x1="1422.4" y1="196.37" x2="1426.9" y2="196.37" stroke="#000" stroke-width="2.8" stroke-linecap="round"/>
<line x1="1422.4" y1="154.9" x2="1426.9" y2="154.9" stroke="#000" stroke-width="2.8" stroke-linecap="round"/>
<line x1="1422.4" y1="134.16" x2="1426.9" y2="134.16" stroke="#000" stroke-width="2.8" stroke-linecap="round"/>
<line x1="1422.4" y1="113.42" x2="1426.9" y2="113.42" stroke="#000" stroke-width="2.8" stroke-linecap="round"/>
<line x1="1422.4" y1="92.69" x2="1426.9" y2="92.69" stroke="#000" stroke-width="2.8" stroke-linecap="round"/>
<text transform="translate(1447.95 388.88) rotate(-90) scale(1 1.08)" font-size="24.5" font-weight="bold" text-anchor="end" letter-spacing="0.72" stroke="#000" stroke-width="0.3" stroke-linejoin="round">NI</text>
<text transform="translate(1473.86 388.88) rotate(-90) scale(1 1.05)" font-size="24.5" font-weight="normal" text-anchor="end" letter-spacing="0.72" stroke="#000" stroke-width="1.2" stroke-linejoin="round">042</text>
<text transform="translate(1499.77 388.88) rotate(-90) scale(1 1.05)" font-size="24.5" font-weight="normal" text-anchor="end" letter-spacing="0.72" stroke="#000" stroke-width="1.2" stroke-linejoin="round">E103617</text>
<text transform="translate(1525.68 388.88) rotate(-90) scale(1 1.05)" font-size="24.5" font-weight="normal" text-anchor="end" letter-spacing="0.72" stroke="#000" stroke-width="1.2" stroke-linejoin="round">E104946</text>
<text transform="translate(1551.59 388.88) rotate(-90) scale(1 1.05)" font-size="24.5" font-weight="normal" text-anchor="end" letter-spacing="0.72" stroke="#000" stroke-width="1.2" stroke-linejoin="round">E104967</text>
<text transform="translate(1577.5 388.88) rotate(-90) scale(1 1.05)" font-size="24.5" font-weight="normal" text-anchor="end" letter-spacing="0.72" stroke="#000" stroke-width="1.2" stroke-linejoin="round">E107526</text>
<text transform="translate(1603.41 388.88) rotate(-90) scale(1 1.05)" font-size="24.5" font-weight="normal" text-anchor="end" letter-spacing="0.72" stroke="#000" stroke-width="1.2" stroke-linejoin="round">E099975</text>
<text transform="translate(1629.32 388.88) rotate(-90) scale(1 1.05)" font-size="24.5" font-weight="normal" text-anchor="end" letter-spacing="0.72" stroke="#000" stroke-width="1.2" stroke-linejoin="round">E104931</text>
<text transform="translate(1655.23 388.88) rotate(-90) scale(1 1.05)" font-size="24.5" font-weight="normal" text-anchor="end" letter-spacing="0.72" stroke="#000" stroke-width="1.2" stroke-linejoin="round">E104940</text>
<text transform="translate(1681.14 388.88) rotate(-90) scale(1 1.05)" font-size="24.5" font-weight="normal" text-anchor="end" letter-spacing="0.72" stroke="#000" stroke-width="1.2" stroke-linejoin="round">E104969</text>
<text transform="translate(1707.05 388.88) rotate(-90) scale(1 1.05)" font-size="24.5" font-weight="normal" text-anchor="end" letter-spacing="0.72" stroke="#000" stroke-width="1.2" stroke-linejoin="round">1091</text>
<text transform="translate(1732.96 388.88) rotate(-90) scale(1 1.05)" font-size="24.5" font-weight="normal" text-anchor="end" letter-spacing="0.72" stroke="#000" stroke-width="1.2" stroke-linejoin="round">1337</text>
<text transform="translate(1758.87 388.88) rotate(-90) scale(1 1.05)" font-size="24.5" font-weight="normal" text-anchor="end" letter-spacing="0.72" stroke="#000" stroke-width="1.2" stroke-linejoin="round">146052</text>
<text transform="translate(1784.78 388.88) rotate(-90) scale(1 1.05)" font-size="24.5" font-weight="normal" text-anchor="end" letter-spacing="0.72" stroke="#000" stroke-width="1.2" stroke-linejoin="round">153145</text>
<text transform="translate(1810.69 388.88) rotate(-90) scale(1 1.05)" font-size="24.5" font-weight="normal" text-anchor="end" letter-spacing="0.72" stroke="#000" stroke-width="1.2" stroke-linejoin="round">221654</text>
<text transform="translate(1836.6 388.88) rotate(-90) scale(1 1.05)" font-size="24.5" font-weight="normal" text-anchor="end" letter-spacing="0.72" stroke="#000" stroke-width="1.2" stroke-linejoin="round">232736</text>
<text transform="translate(1862.51 388.88) rotate(-90) scale(1 1.05)" font-size="24.5" font-weight="normal" text-anchor="end" letter-spacing="0.72" stroke="#000" stroke-width="1.2" stroke-linejoin="round">E107759</text>
<text transform="translate(1888.42 388.88) rotate(-90) scale(1 1.05)" font-size="24.5" font-weight="normal" text-anchor="end" letter-spacing="0.72" stroke="#000" stroke-width="1.2" stroke-linejoin="round">E109907</text>
<line x1="1483.4" y1="509.7" x2="1683.2" y2="509.7" stroke="#000" stroke-width="4.2" stroke-linecap="round"/>
<line x1="1695.7" y1="509.7" x2="1886" y2="509.7" stroke="#000" stroke-width="4.2" stroke-linecap="round"/>
<text transform="translate(1539.8 550.4) scale(1 0.985)" font-size="30.9" font-weight="normal" text-anchor="start" stroke="#000" stroke-width="0.3" stroke-linejoin="round">ST 31</text>
<text transform="translate(1748.1 550.4) scale(1 0.985)" font-size="30.9" font-weight="normal" text-anchor="start" stroke="#000" stroke-width="0.3" stroke-linejoin="round">ST 40</text>
<text transform="translate(1326.6 306.6) rotate(-90) scale(1 1.03)" font-size="31.5" font-weight="bold" text-anchor="start" letter-spacing="-0.8">IL-8 (pg/ml)</text>
<text transform="translate(1279.9 35.7) scale(1 1.065)" font-size="43.4" font-weight="normal" text-anchor="start">C</text>
<path d="M251.4 190.9 V106.8 H480.4 V154.5" fill="none" stroke="#000" stroke-width="2.7" stroke-linejoin="round"/>
<line x1="147.15" y1="190.9" x2="358.35" y2="190.9" stroke="#000" stroke-width="2.7" stroke-linecap="round"/>
<line x1="373.75" y1="154.5" x2="592.85" y2="154.5" stroke="#000" stroke-width="2.7" stroke-linecap="round"/>
<text transform="translate(367.9 106.9) scale(1 0.94)" font-size="27.2" font-weight="normal" text-anchor="middle" stroke="#000" stroke-width="0.25" stroke-linejoin="round">*</text>
<path d="M1584.5 159.5 V81.7 H1786.8 V105.3" fill="none" stroke="#000" stroke-width="2.7" stroke-linejoin="round"/>
<line x1="1487.15" y1="159.5" x2="1675.25" y2="159.5" stroke="#000" stroke-width="2.7" stroke-linecap="round"/>
<line x1="1695.25" y1="105.3" x2="1882.25" y2="105.3" stroke="#000" stroke-width="2.7" stroke-linecap="round"/>
<text transform="translate(1680.3 80.8) scale(1 0.94)" font-size="27.2" font-weight="normal" text-anchor="middle" stroke="#000" stroke-width="0.25" stroke-linejoin="round">***</text>
</svg>
</body>
</html>
